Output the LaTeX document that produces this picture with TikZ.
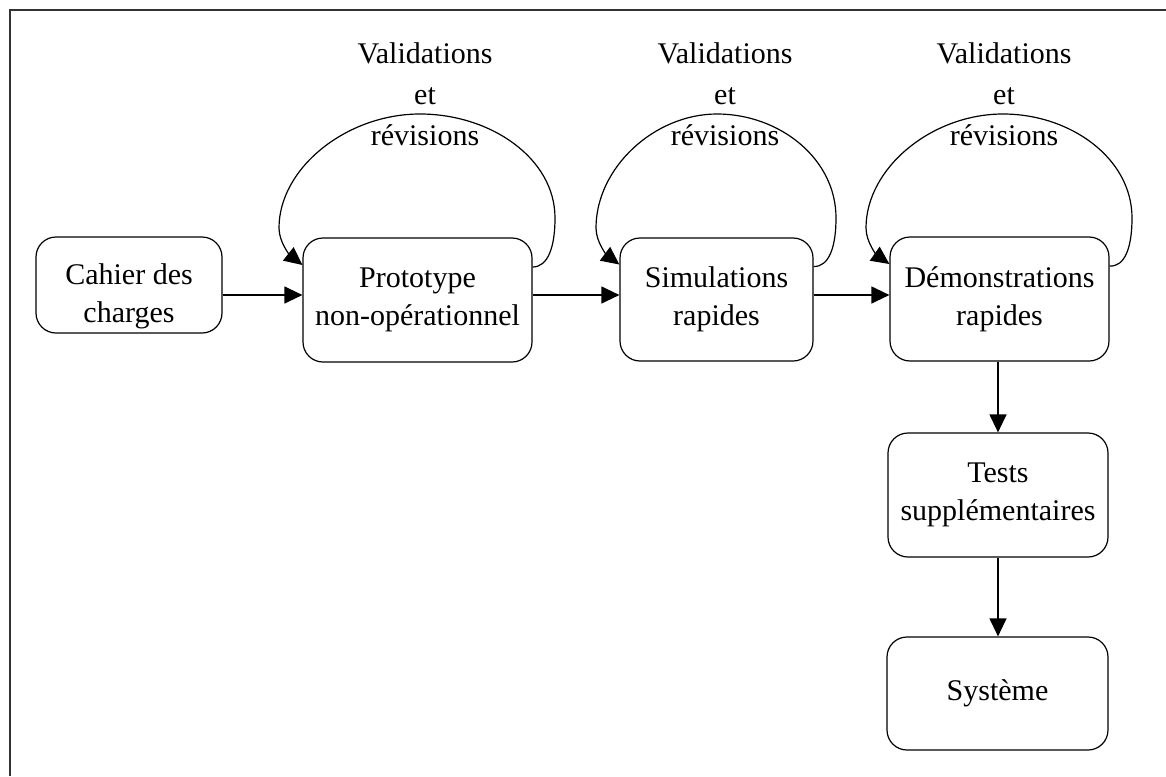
\documentclass[tikz,border=0pt]{standalone}
\usepackage{fontspec}
\setmainfont{Liberation Serif}
\usetikzlibrary{arrows.meta}

\begin{document}
\begin{tikzpicture}[x=1pt,y=-1pt,
  line width=1.2pt,
  every node/.style={font=\fontsize{30}{38}\selectfont},
  stage/.style={draw, rounded corners=20pt, inner sep=0pt, align=center},
  flow/.style={-{Triangle[length=18pt,width=17pt]}},
  label/.style={align=center, inner sep=0pt, anchor=base,
                font=\fontsize{30}{41}\selectfont}
]
\useasboundingbox (0,0) rectangle (1166,776);

% frame
\draw[line width=2pt, black!80] (10,776) -- (10,10) -- (1166,10);

% stages
\node[stage, minimum width=186pt, minimum height=96pt, text height=74pt, text depth=0pt]
  (cdc) at (129,285) {Cahier des\\charges};
\node[stage, minimum width=229pt, minimum height=124pt] (proto) at (417.5,300) {Prototype\\non-opérationnel};
\node[stage, minimum width=193pt, minimum height=123pt] (simu) at (716.5,299.5) {Simulations\\rapides};
\node[stage, minimum width=219pt, minimum height=124pt] (demo) at (999.5,299) {Démonstrations\\rapides};
\node[stage, minimum width=220pt, minimum height=124pt] (tests) at (998,495) {Tests\\supplémentaires};
\node[stage, minimum width=221pt, minimum height=113pt] (sys) at (997.5,693.5) {Système};

% main flow
\draw[flow] (cdc.east |- 0,295) -- (proto.west |- 0,295);
\draw[flow] (proto.east |- 0,295) -- (simu.west |- 0,295);
\draw[flow] (simu.east |- 0,295) -- (demo.west |- 0,295);
\draw[flow] (demo.south -| 998,0) -- (tests.north -| 998,0);
\draw[flow] (tests.south -| 998,0) -- (sys.north -| 998,0);

% validation loops: leave the right side, arc over the box, re-enter on the left
\foreach \b/\L/\R/\cx in {proto/303/532/420, simu/620/813/717, demo/890/1109/1003} {
  \pgfmathsetmacro{\xr}{\R+23}
  \pgfmathsetmacro{\xl}{\L-24}
  \pgfmathsetmacro{\kr}{\cx+0.52*(\xr-\cx)}
  \pgfmathsetmacro{\kl}{\cx-0.52*(\cx-\xl)}
  \draw[flow] ([yshift=33pt]\b.east)
      .. controls (\R+16,267) and (\xr,247) .. (\xr,218)
      .. controls (\xr,158) and (\kr,114) .. (\cx,114)
      .. controls (\kl,114) and (\xl,168) .. (\xl,228)
      .. controls (\xl,243) and (\L-12,256) .. ([yshift=35pt]\b.west);
}

% loop captions
\node[label] (vr1) at (425,145)  {Validations\\et\\révisions};
\node[label] (vr2) at (725,145)  {Validations\\et\\révisions};
\node[label] (vr3) at (1004,145) {Validations\\et\\révisions};
\end{tikzpicture}
\end{document}
